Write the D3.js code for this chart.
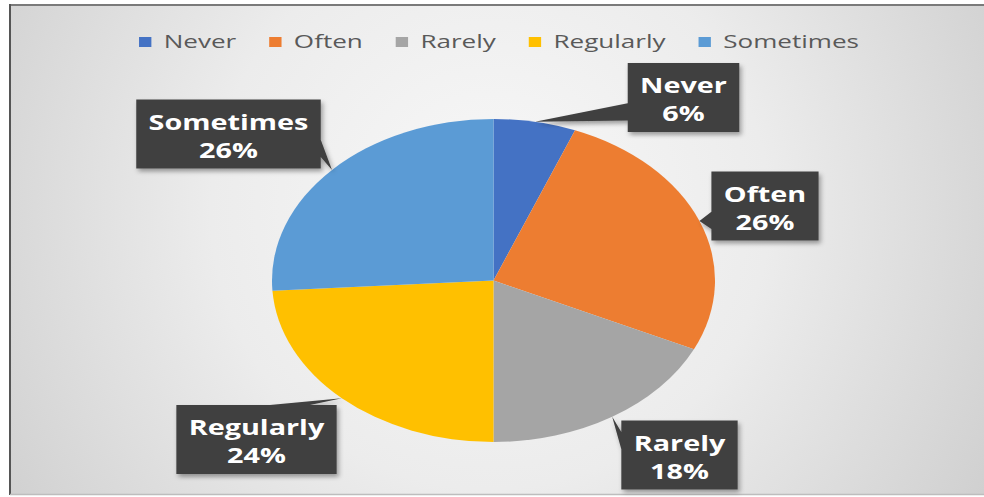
<!DOCTYPE html>
<html><head><meta charset="utf-8">
<script src="https://cdn.jsdelivr.net/npm/d3@7"></script>
<style>html,body{margin:0;padding:0;background:#fff;overflow:hidden}</style>
</head><body>
<svg id="chart" width="984" height="497"></svg>
<script>
// ---- data ----
const categories = ["Never", "Often", "Rarely", "Regularly", "Sometimes"];
const values = [6, 26, 18, 24, 26];
const colors = ["#4472C4", "#ED7D31", "#A5A5A5", "#FFC000", "#5B9BD5"];

// ---- layout (picture is horizontally stretched) ----
const W = 984, H = 497;
const SX = 221.5 / 161.5;           // horizontal stretch of the whole picture
const R = 161.5;
const CX = 493.5 / SX, CY = 280.5;
// label callout box centres (in picture pixels)
const labelCenters = [[683.5, 97.5], [765, 206], [679.5, 455], [256.5, 439.5], [228.5, 134]];

const svg = d3.select("#chart");
const defs = svg.append("defs");
const bg = defs.append("radialGradient").attr("id", "bg")
  .attr("gradientUnits", "userSpaceOnUse")
  .attr("cx", 490).attr("cy", 210).attr("r", 620);
bg.append("stop").attr("offset", 0).attr("stop-color", "#f8f8f8");
bg.append("stop").attr("offset", 0.45).attr("stop-color", "#ececec");
bg.append("stop").attr("offset", 1).attr("stop-color", "#cbcbcb");
const sh = defs.append("filter").attr("id", "sh").attr("x", "-20%").attr("y", "-20%").attr("width", "150%").attr("height", "150%");
sh.append("feDropShadow").attr("dx", 1.5).attr("dy", 3).attr("stdDeviation", 2)
  .attr("flood-color", "#000").attr("flood-opacity", 0.35);

// frame & background
svg.append("rect").attr("x", 10).attr("y", 5).attr("width", W).attr("height", 489).attr("fill", "url(#bg)");
svg.append("line").attr("x1", 10).attr("x2", W).attr("y1", 5).attr("y2", 5).attr("stroke", "#7a7a7a").attr("stroke-width", 2);
svg.append("line").attr("x1", 10).attr("x2", 10).attr("y1", 4).attr("y2", 495).attr("stroke", "#555").attr("stroke-width", 2);
svg.append("line").attr("x1", 10).attr("x2", W).attr("y1", 494.5).attr("y2", 494.5).attr("stroke", "#bdbdbd").attr("stroke-width", 1.5);

const g = svg.append("g").attr("transform", `scale(${SX},1)`);

// ---- legend ----
const leg = g.append("g").attr("font-family", "'Open Sans', sans-serif").attr("font-size", 19).attr("fill", "#595959");
const items = leg.selectAll("g").data(categories).join("g");
items.append("rect").attr("width", 9).attr("height", 10).attr("y", 37).attr("fill", (d, i) => colors[i]);
items.append("text").attr("x", 18).attr("y", 48).text(d => d);
let widths = [];
items.each(function () { widths.push(d3.select(this).select("text").node().getComputedTextLength()); });
const gapE = 24;
const total = d3.sum(widths, w => w + 18) + gapE * (categories.length - 1);
let xx = 499 / SX - total / 2;
items.attr("transform", (d, i) => { const t = `translate(${xx},0)`; xx += 18 + widths[i] + gapE; return t; });

// ---- pie ----
const pie = d3.pie().sort(null).value(d => d)(values);
const arc = d3.arc().innerRadius(0).outerRadius(R);
const pg = g.append("g").attr("transform", `translate(${CX},${CY})`);
pg.selectAll("path").data(pie).join("path").attr("d", arc).attr("fill", (d, i) => colors[i]);

// ---- callout labels ----
const sum = d3.sum(values);
const fmt = d3.format(".0%");
const lab = g.append("g").attr("font-family", "'Open Sans', sans-serif").attr("font-weight", 700).attr("font-size", 21);
pie.forEach((p, i) => {
  const a = (p.startAngle + p.endAngle) / 2;
  const tx = CX + Math.sin(a) * R, ty = CY - Math.cos(a) * R;
  const cx = labelCenters[i][0] / SX, cy = labelCenters[i][1];
  const gg = lab.append("g");
  const t1 = gg.append("text").attr("x", cx).attr("y", cy - 4).attr("text-anchor", "middle").attr("fill", "#fff").text(categories[i]);
  const t2 = gg.append("text").attr("x", cx).attr("y", cy + 24).attr("text-anchor", "middle").attr("fill", "#fff").text(fmt(values[i] / sum));
  const tw = Math.max(t1.node().getComputedTextLength(), t2.node().getComputedTextLength());
  const w = tw + 18, h = 69;
  const x0 = cx - w / 2, y0 = cy - h / 2;
  // Office wedgeRectCallout geometry
  const dx = tx - cx, dy = ty - cy;
  const dq = dx * h / w, dz = Math.abs(dy) - Math.abs(dq);
  const xa = x0 + w * (dx > 0 ? 7 : 2) / 12, xb = x0 + w * (dx > 0 ? 10 : 5) / 12;
  const ya = y0 + h * (dy > 0 ? 7 : 2) / 12, yb = y0 + h * (dy > 0 ? 10 : 5) / 12;
  const pts = [[x0, y0]];
  if (dz > 0 && dy < 0) pts.push([xa, y0], [tx, ty], [xb, y0]);
  pts.push([x0 + w, y0]);
  if (dz <= 0 && dx > 0) pts.push([x0 + w, ya], [tx, ty], [x0 + w, yb]);
  pts.push([x0 + w, y0 + h]);
  if (dz > 0 && dy > 0) pts.push([xb, y0 + h], [tx, ty], [xa, y0 + h]);
  pts.push([x0, y0 + h]);
  if (dz <= 0 && dx < 0) pts.push([x0, yb], [tx, ty], [x0, ya]);
  gg.insert("path", "text").attr("d", d3.line()(pts) + "Z").attr("fill", "#404040").attr("filter", "url(#sh)");
});
</script>
</body></html>
